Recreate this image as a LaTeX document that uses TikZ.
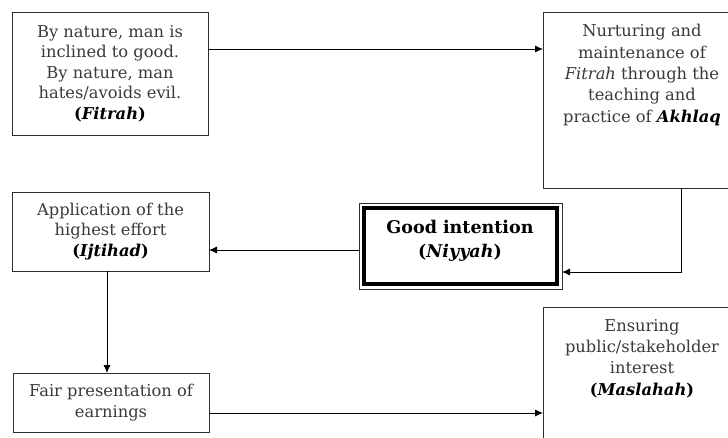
\documentclass[tikz,border=0pt]{standalone}
\usepackage{fontspec}
\setmainfont{DejaVu Serif}
\usetikzlibrary{arrows.meta,calc}
\definecolor{txt}{HTML}{3A3A3A}
\definecolor{edge}{HTML}{2E2E2E}
\newcommand\bi[1]{\textcolor{black}{\textbf{\textit{#1}}}}
\begin{document}
\begin{tikzpicture}[x=1pt,y=-1pt,
  box/.style={draw=edge,line width=0.9pt,inner sep=0pt,outer sep=0pt,anchor=north west,
              align=center,text=txt,font=\fontsize{16.3}{20.6}\selectfont},
  lbl/.style={align=center,text=txt,font=\fontsize{16.3}{21.3}\selectfont,inner sep=0pt},
  conn/.style={draw=black,line width=0.8pt,-{Latex[length=8pt,width=7pt]}}]
\useasboundingbox (0,0) rectangle (728,437);
\fill[white] (0,0) rectangle (728,437);

\node[box,minimum width=196pt,minimum height=123pt] (fitrah) at (12,12)
  {By nature, man is\\inclined to good.\\By nature, man\\hates/avoids evil.\\\textcolor{black}{\textbf{(\textit{Fitrah})}}};
\node[box,minimum width=198pt,minimum height=176pt] (akhlaq) at (543,12) {};
\node[lbl] (akhlaqtxt) at (642,75)
  {Nurturing and\\maintenance of\\\textit{Fitrah} through the\\teaching and\\practice of \bi{Akhlaq}};

\node[draw=edge,line width=0.9pt,minimum width=203pt,minimum height=86pt,anchor=north west,inner sep=0pt,outer sep=0pt] (niyyah) at (359,203) {};
\draw[black,line width=3.6pt] ($(niyyah.north west)+(5,5)$) rectangle ($(niyyah.south east)+(-5,-5)$);
\node[lbl,text=black,font=\fontsize{17.5}{24}\selectfont\bfseries] (niyyahtxt) at (460,241)
  {Good intention\\(\textit{Niyyah})};

\node[box,minimum width=197pt,minimum height=79pt] (ijtihad) at (12,192)
  {Application of the\\highest effort\\\textcolor{black}{\textbf{(\textit{Ijtihad})}}};
\node[box,minimum width=196pt,minimum height=59pt] (fair) at (13,373)
  {Fair presentation of\\earnings};
\node[box,minimum width=198pt,minimum height=150pt] (maslahah) at (543,307) {};
\node[lbl] (maslahahtxt) at (642,358.5)
  {Ensuring\\public/stakeholder\\interest\\\textcolor{black}{\textbf{(\textit{Maslahah})}}};

\draw[conn] ($(fitrah.north east)+(0,37)$) coordinate (c1) -- (c1 -| akhlaq.west);
\draw[conn] ($(akhlaq.south west)+(138,0)$) coordinate (c2) |- ($(niyyah.north east)+(0,69)$);
\draw[conn] ($(niyyah.north west)+(0,47)$) coordinate (c3) -- (c3 -| ijtihad.east);
\draw[conn] ($(ijtihad.south west)+(95,0)$) coordinate (c4) -- (c4 |- fair.north);
\draw[conn] ($(fair.north east)+(0,40)$) coordinate (c5) -- (c5 -| maslahah.west);
\end{tikzpicture}
\end{document}
